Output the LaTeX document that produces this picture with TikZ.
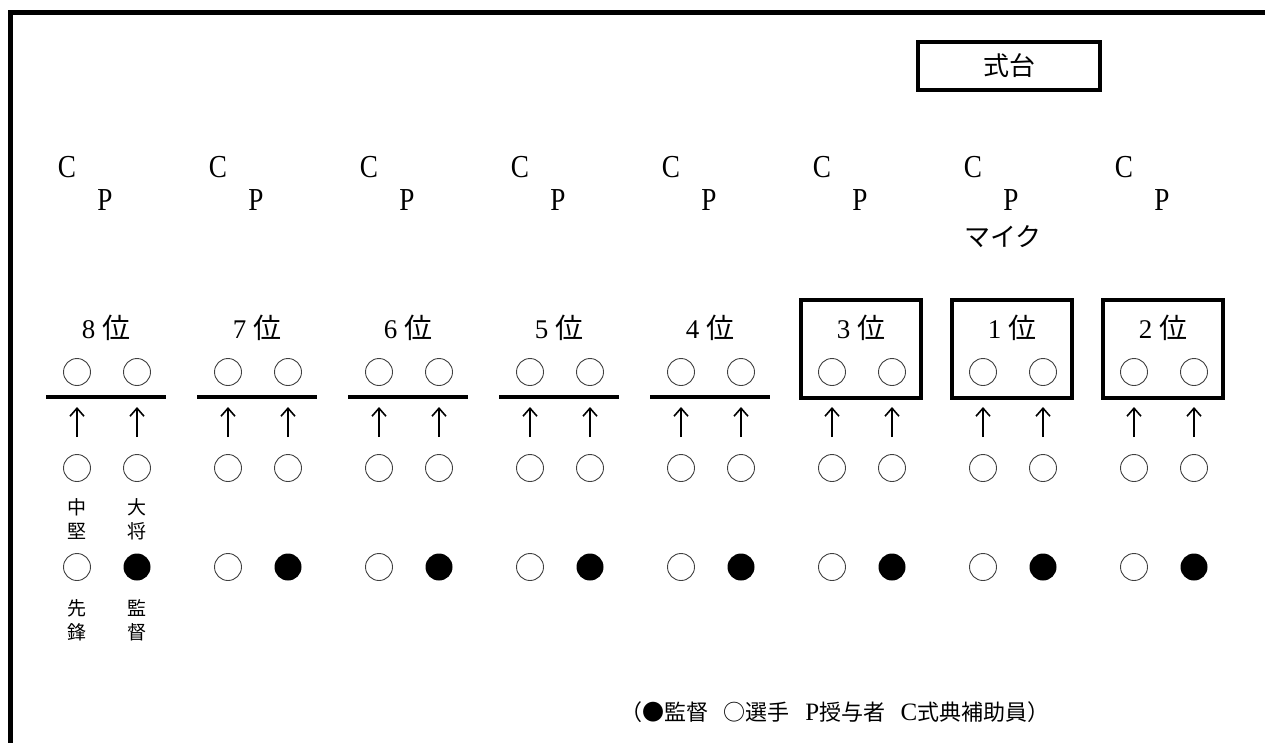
\documentclass[tikz,border=0pt]{standalone}
\usepackage{fontspec}
\setmainfont{Liberation Serif}
\newfontfamily\jp{Noto Sans CJK JP}
\newfontfamily\narrowser[FakeStretch=0.85]{Liberation Serif}
\usetikzlibrary{arrows.meta}
\begin{document}
\begin{tikzpicture}[x=1pt,y=-1pt,
  pl/.style={circle, draw=black!75, line width=0.9pt, minimum size=27pt, inner sep=0pt},
  coach/.style={circle, fill=black, minimum size=27pt, inner sep=0pt},
  heavy/.style={line width=4pt},
  rankbox/.style={draw, line width=4pt, minimum width=120pt, minimum height=98pt, inner sep=0pt},
  arr/.style={-{Straight Barb[length=8pt,width=14pt]}, line width=1.6pt, shorten <=31pt, shorten >=35pt},
  cp/.style={inner sep=0pt, font=\narrowser\fontsize{32}{34}\selectfont},
  rank/.style={inner sep=0pt},
  small/.style={inner sep=0pt, align=center, font=\jp\fontsize{19}{24}\selectfont}
]
\useasboundingbox (0,0) rectangle (1265,742);
\draw[line width=5pt] (10.5,780) -- (10.5,12.5) -- (1290,12.5);
% 式台
\node[draw, line width=4pt, minimum width=182pt, minimum height=48pt, inner sep=0pt,
  font=\jp\fontsize{26}{28}\selectfont] (shikidai) at (1009,66) {式台};
\foreach \r [count=\i from 0] in {8,7,6,5,4,3,1,2} {
  \pgfmathsetmacro\xl{77+151*\i}
  \pgfmathsetmacro\xr{\xl+60}
  \pgfmathsetmacro\xm{\xl+30}
  \node[cp] (c\i) at (\xl-10,167) {C};
  \node[cp] (p\i) at (\xm-2,200) {P};
  \node[rank] (r\i) at (\xm-1,328) {{\fontsize{27}{28}\selectfont \r}\hspace{7pt}{\jp\fontsize{28}{30}\selectfont 位}};
  \node[pl] (t1-\i) at (\xl,372) {};
  \node[pl] (t2-\i) at (\xr,372) {};
  \node[pl] (m1-\i) at (\xl,468) {};
  \node[pl] (m2-\i) at (\xr,468) {};
  \node[pl] (b1-\i) at (\xl,567) {};
  \node[coach] (b2-\i) at (\xr,567) {};
  \draw[arr] (m1-\i.center) -- (t1-\i.center);
  \draw[arr] (m2-\i.center) -- (t2-\i.center);
  \ifnum\i<5
    \draw[heavy] (\xm-61,397) -- (\xm+59,397);
  \else
    \node[rankbox] (box\i) at (\xm-1,348.5) {};
  \fi
}
\node[inner sep=0pt, font=\jp\fontsize{26}{28}\selectfont] (mic) at (1003,237) {マイク};
\node[small] (chuken) at (77,519) {中\\堅};
\node[small] (taisho) at (137,519) {大\\将};
\node[small] (senpo) at (77,620) {先\\鋒};
\node[small] (kantoku) at (137,620) {監\\督};
\node[inner sep=0pt, font=\jp\fontsize{22}{24}\selectfont] (legend) at (835,712)
  {（●監督\hspace{0.7em}○選手\hspace{0.7em}{\rmfamily\fontsize{25}{26}\selectfont P}授与者\hspace{0.7em}{\rmfamily\fontsize{25}{26}\selectfont C}式典補助員）};
\end{tikzpicture}
\end{document}
